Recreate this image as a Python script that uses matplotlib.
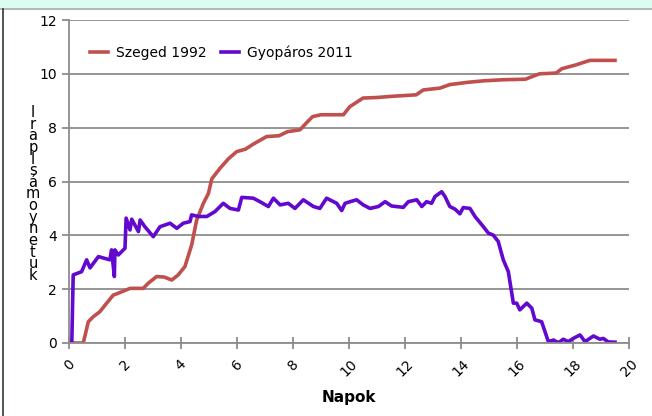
import matplotlib.pyplot as plt
from matplotlib.patches import Rectangle
from matplotlib.lines import Line2D

# Szeged 1992 (red)
szeged_x = [0.0, 0.15, 0.51, 0.69, 0.87, 1.1, 1.29, 1.58, 1.76, 2.18, 2.65, 2.83, 3.13,
            3.4, 3.67, 3.9, 4.14, 4.38, 4.56, 4.8, 4.98, 5.1, 5.4, 5.7, 5.99, 6.3, 6.6,
            7.06, 7.5, 7.8, 8.25, 8.5, 8.7, 9.0, 9.8, 10.03, 10.5, 11.0, 11.46, 12.4,
            12.65, 13.25, 13.6, 14.2, 14.8, 15.5, 16.3, 16.8, 17.4, 17.6, 18.1, 18.6, 19.5]
szeged_y = [0.0, 0.0, 0.0, 0.79, 0.98, 1.16, 1.41, 1.78, 1.85, 2.03, 2.03, 2.22, 2.47,
            2.45, 2.34, 2.53, 2.84, 3.64, 4.57, 5.19, 5.56, 6.1, 6.5, 6.85, 7.11, 7.2,
            7.4, 7.67, 7.7, 7.85, 7.92, 8.2, 8.41, 8.48, 8.48, 8.78, 9.1, 9.12, 9.16,
            9.22, 9.4, 9.47, 9.6, 9.68, 9.74, 9.78, 9.8, 10.0, 10.03, 10.19, 10.33, 10.5, 10.5]

# Gyopáros 2011 (purple)
gyop_x = [0.1, 0.15, 0.45, 0.63, 0.75, 1.05, 1.46, 1.52, 1.62, 1.64, 1.76, 2.0, 2.04,
          2.18, 2.24, 2.48, 2.54, 2.71, 3.01, 3.25, 3.61, 3.85, 4.08, 4.32, 4.38, 4.62,
          4.92, 5.21, 5.51, 5.75, 6.05, 6.17, 6.58, 6.82, 7.12, 7.3, 7.54, 7.83, 8.07,
          8.37, 8.73, 8.96, 9.2, 9.56, 9.74, 9.86, 10.04, 10.27, 10.51, 10.75, 11.05,
          11.29, 11.52, 11.94, 12.12, 12.42, 12.6, 12.77, 12.95, 13.07, 13.31, 13.43,
          13.6, 13.79, 13.96, 14.08, 14.32, 14.5, 14.8, 14.98, 15.15, 15.33, 15.51,
          15.69, 15.87, 15.99, 16.1, 16.35, 16.53, 16.64, 16.88, 17.12, 17.3, 17.48,
          17.65, 17.83, 18.01, 18.25, 18.43, 18.73, 18.96, 19.08, 19.26, 19.5]
gyop_y = [0.0, 2.53, 2.65, 3.09, 2.79, 3.21, 3.09, 3.46, 2.47, 3.46, 3.27, 3.52, 4.64,
          4.2, 4.6, 4.14, 4.57, 4.32, 3.95, 4.32, 4.45, 4.26, 4.45, 4.51, 4.76, 4.7,
          4.7, 4.88, 5.19, 5.0, 4.94, 5.41, 5.38, 5.25, 5.07, 5.38, 5.13, 5.19, 5.0,
          5.32, 5.07, 5.0, 5.38, 5.19, 4.92, 5.19, 5.25, 5.32, 5.13, 5.0, 5.07,
          5.25, 5.09, 5.04, 5.25, 5.32, 5.07, 5.25, 5.19, 5.44, 5.62, 5.44,
          5.07, 4.97, 4.8, 5.03, 5.0, 4.7, 4.32, 4.08, 4.01, 3.77, 3.09,
          2.65, 1.48, 1.48, 1.23, 1.48, 1.29, 0.86, 0.79, 0.05, 0.11, 0.01,
          0.14, 0.05, 0.17, 0.3, 0.05, 0.26, 0.14, 0.17, 0.04, 0.03]

ylabel_chars = list("Irapls") + ["á"] + list("moynetuk")

red = '#c0504d'
purple = '#6208cf'
grid = '#8c8c8c'

fig = plt.figure(figsize=(6.52, 4.16), dpi=100)
# top band and left border like the source frame
fig.patches.append(Rectangle((0, 1 - 8 / 416), 1, 8 / 416, transform=fig.transFigure,
                             facecolor='#dcfcf1', edgecolor='none'))
fig.lines.append(Line2D([0, 1], [1 - 9 / 416, 1 - 9 / 416], transform=fig.transFigure,
                        color='#a8a8a8', lw=1.2))
fig.lines.append(Line2D([2.5 / 652, 2.5 / 652], [0, 1 - 9 / 416], transform=fig.transFigure,
                        color='#2a3a35', lw=1.2))

ax = fig.add_axes([69 / 652, 1 - 343 / 416, 560 / 652, 323 / 416])
ax.plot(szeged_x, szeged_y, color=red, lw=2.6, label='Szeged 1992', solid_joinstyle='round')
ax.plot(gyop_x, gyop_y, color=purple, lw=2.6, label='Gyopáros 2011', solid_joinstyle='round')

ax.set_xlim(0, 20)
ax.set_ylim(0, 12)
ax.set_xticks(range(0, 21, 2))
ax.set_yticks(range(0, 13, 2))
ax.yaxis.grid(True, color=grid, lw=1.3)
ax.set_axisbelow(True)
for s in ['top', 'right']:
    ax.spines[s].set_visible(False)
for s in ['left', 'bottom']:
    ax.spines[s].set_color(grid)
    ax.spines[s].set_linewidth(1.3)
ax.tick_params(axis='both', color=grid, width=1.3, length=5, labelsize=10)
ax.tick_params(axis='x', direction='inout', length=8, pad=6)
plt.setp(ax.get_xticklabels(), rotation=45, ha='center', va='top')

ax.set_xlabel('Napok', fontsize=11, fontweight='bold', labelpad=8)

# stacked vertical y label, one text block with tight line spacing
fig.text(33 / 652, 1 - 194 / 416, '\n'.join(ylabel_chars), ha='center', va='center',
         fontsize=10.5, linespacing=0.72)

ax.legend(loc='upper left', bbox_to_anchor=(0.015, 0.96), ncol=2, frameon=False,
          fontsize=10, handlelength=1.3, columnspacing=1.0, handletextpad=0.6)

fig.savefig('out.png', dpi=100)
